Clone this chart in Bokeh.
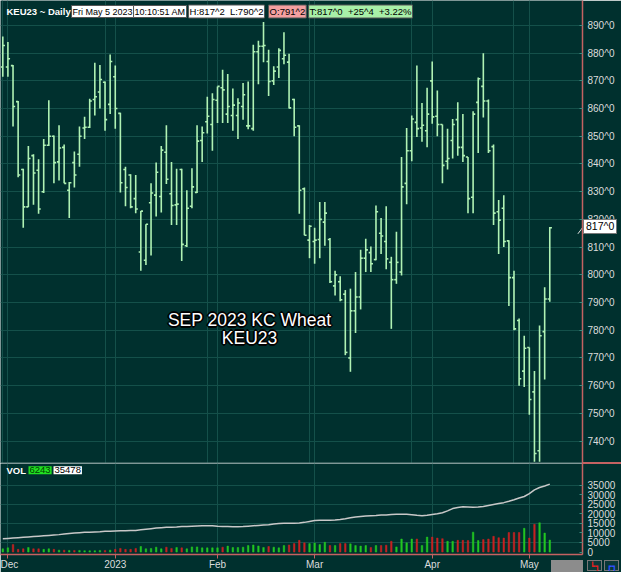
import numpy as np
from bokeh.plotting import figure
from bokeh.models import (ColumnDataSource, Range1d, FixedTicker, Label, Span, Grid,
                          PrintfTickFormatter, Div)
from bokeh.layouts import column
from bokeh.embed import file_html
from bokeh.resources import INLINE

# ---------------- data ----------------
opens = [875, 875, 875.5, 862.5, 838, 824.5, 843, 837.75, 830, 846.75,
         850, 840.75, 846, 830.5, 840.5, 843.5, 853, 853.25, 863.25, 866,
         869.5, 861.5, 871.5, 858.25, 838, 836, 827.5, 808.25, 805.25, 826,
         828.75, 828.25, 844.25, 829.25, 825.25, 838, 810.5, 824.75, 829.75, 848.5,
         855.25, 854.25, 863, 867.5, 858, 857.5, 857.5, 860.75, 853.75, 852.75,
         880.5, 882.5, 877, 870, 875, 878, 876.75, 863.25, 853.75, 831,
         812.5, 812, 812.75, 819, 812.75, 796, 797.5, 793, 770, 787,
         792, 806, 808, 805.5, 815, 812, 804.5, 798.25, 801, 833,
         844.75, 855, 853, 852, 870, 857.25, 854.25, 841, 848.5, 856,
         846, 842.5, 828, 862.25, 868, 862.75, 846.25, 822.75, 824, 812.25,
         799, 783.5, 765.25, 773.75, 757.75, 736.5, 779.5, 791.25]
highs = [886, 884, 875.75, 862.75, 838.25, 846.5, 843.5, 841.75, 849, 863,
         850.25, 854, 847, 833.5, 844.5, 853.5, 857, 863.5, 876.5, 875.75,
         869.75, 879.5, 875.5, 858.5, 839, 836.25, 836, 823, 818.25, 833,
         840.5, 846.5, 854, 840.75, 838.25, 838.25, 830.5, 838.5, 854, 853.5,
         864.25, 865.5, 868, 874, 872.5, 867.25, 863.75, 869.25, 869.75, 883,
         884.5, 891.25, 881.25, 875.25, 881.75, 887.5, 879.75, 863.5, 854, 831.5,
         818, 817, 826.25, 826.25, 813.25, 801.5, 799.5, 794.5, 795, 801,
         809, 813, 810.25, 825, 820.5, 824.75, 806.5, 815.5, 842.5, 853,
         857.5, 875.5, 862, 867.5, 877, 866.5, 854.25, 852.75, 856.25, 862.25,
         858, 842.5, 859, 871.25, 880, 863.25, 847, 827, 828.75, 812.5,
         801.5, 784.25, 778, 773.75, 765.25, 781.75, 795.5, 817.25]
lows = [871.5, 871.5, 853.5, 835.25, 817, 824.5, 825.25, 822, 829.5, 846.5,
        833, 834, 833, 820.5, 831.5, 839, 849, 853, 857.5, 860,
        852, 858, 852.75, 829.75, 824.75, 824, 822.25, 801.5, 803.5, 807,
        821, 822.5, 832.75, 818, 818, 805, 810, 824, 829.5, 840.75,
        851, 844.75, 854.75, 854.75, 854.75, 852, 849, 856, 852.5, 852,
        868.75, 876.75, 864.5, 868.5, 871, 876, 860, 850, 822, 814.25,
        806, 804, 806, 810.5, 797, 792.5, 790.5, 771, 765, 779,
        787.5, 801, 801, 805.25, 807.5, 802, 780.5, 796.75, 799.75, 825.5,
        841, 849.75, 848, 846, 854.5, 850, 833, 838, 842, 843,
        840.75, 822.25, 822.25, 844, 856.75, 844, 818, 807.5, 810, 788.75,
        780, 760, 759.5, 749.5, 732.5, 732.5, 762.25, 790.25]
closes = [882.75, 878, 860.75, 836, 824.5, 842, 836.75, 823.75, 846.75, 850,
          840.5, 845.75, 833, 833.25, 836, 850, 853.25, 862.75, 864.25, 870.5,
          856, 877, 860, 833.25, 831.5, 824.5, 823.75, 823, 818.25, 829.5,
          837, 845, 834.5, 825, 825.5, 811, 824, 831.75, 848.25, 851.25,
          857.25, 863.25, 868, 866.75, 860.75, 861.25, 862, 865, 853.75, 880.5,
          882.5, 882.75, 869.75, 873.5, 881, 879.25, 860.25, 853.25, 830.5, 814.25,
          817.5, 812.5, 820, 822.25, 797.5, 800, 791, 772, 787, 792,
          806, 809, 804, 822.75, 814, 805.75, 798.25, 804.5, 831.75, 844.75,
          856.25, 852.75, 854, 858, 857, 854.25, 839.5, 842, 854.25, 846,
          843, 827.5, 858, 870.75, 862.75, 844.75, 822.25, 819.75, 812, 799,
          780.5, 762.5, 773.5, 755, 735.5, 778, 791.25, 817]
volume = [1700, 2200, 3900, 1400, 1700, 2400, 1700, 1700, 1400, 1700,
          1400, 1000, 1000, 850, 850, 850, 700, 700, 700, 850,
          850, 1000, 1400, 1900, 1400, 1400, 1900, 2900, 1700, 1900,
          2550, 1700, 2550, 1900, 2400, 2200, 1700, 2700, 2700, 2200,
          2200, 2200, 2200, 2550, 3100, 2400, 2400, 2550, 3400, 3700,
          3200, 2400, 2900, 2550, 2200, 3400, 3700, 4400, 6100, 4800,
          4400, 4700, 3900, 5100, 3400, 3400, 4400, 4400, 4300, 3400,
          3100, 3400, 2400, 3400, 3400, 3600, 5600, 2700, 6800, 4800,
          6800, 6800, 3400, 7800, 7800, 7300, 7000, 5600, 5600, 6100,
          6100, 6000, 10400, 6000, 6500, 6800, 8200, 7500, 7300, 10200,
          10200, 10200, 12400, 7300, 14500, 15300, 9900, 6243]
open_interest = [6900, 7100, 7300, 7500, 7700, 7900, 8100, 8300, 8500, 8700,
                 8900, 9100, 9400, 9700, 9900, 10100, 10300, 10400, 10500, 10600,
                 10800, 10900, 11000, 11100, 11100, 11200, 11300, 11600, 11900, 12200,
                 12500, 12700, 12900, 13000, 13100, 13300, 13400, 13500, 13600, 13700,
                 13700, 13700, 13500, 13400, 13300, 13200, 13200, 13300, 13500, 13700,
                 13900, 14100, 14300, 14600, 14900, 15100, 15100, 15100, 15200, 15500,
                 16000, 16500, 16600, 16600, 16600, 16700, 17000, 17400, 17900, 18300,
                 18600, 18800, 19000, 19100, 19300, 19400, 19600, 19700, 19700, 19700,
                 19500, 19200, 19000, 19200, 19600, 20000, 20500, 21500, 22700, 23300,
                 23600, 23500, 23400, 23500, 23800, 24300, 24800, 25300, 25800, 26500,
                 27300, 28200, 29000, 30500, 32500, 33700, 34500, 35478]
month_labels = ["Dec", "2023", "Feb", "Mar", "Apr", "May"]
month_bar_index = [1, 22, 42, 61, 84, 103]
price_ticks = list(range(740, 900, 10))
vol_ticks = list(range(0, 40000, 5000))
vol_grid_ticks = [5000, 15000, 25000, 35000]

header_symbol = "KEU23 ~ Daily"
header_boxes = ["Fri May 5 2023", "10:10:51 AM", "H:817^2\u00a0\u00a0L:790^2", "O:791^2",
                "T:817^0\u00a0\u00a0+25^4\u00a0\u00a0+3.22%"]
title_lines = ["SEP 2023 KC Wheat", "KEU23"]
vol_last, oi_last = "6243", "35478"
last_price_label = "817^0"

# ---------------- styling ----------------
BG = "#00302e"
GRID = "#14504a"
AXRED = "#c46262"
BARC = "#b0f2b4"
TXT = "#dcdcdc"
UP = "#22c822"
DN = "#c82222"
FONT = "Liberation Sans"

n = len(opens)
idx = np.arange(n)
x_range = Range1d(-0.45, 113.4)

# reference-pixel -> data helpers (annotation placement only)
def ax(px):
    return px / 5.11 - 0.45

def ay(py):
    return 899.0 - py / 2.77

def vy(py):
    return (553.5 - py) * 511.0

def style_right_axis(a, ticks):
    a.ticker = FixedTicker(ticks=ticks)
    a.axis_line_color = AXRED
    a.axis_line_width = 1.5
    a.major_tick_in = 3
    a.major_tick_out = 0
    a.major_tick_line_color = "#3a8a80"
    a.minor_tick_line_color = None
    a.major_label_text_color = TXT
    a.major_label_text_font = FONT
    a.major_label_text_font_size = "10px"
    a.major_label_standoff = 5

# ---------------- price panel ----------------
p = figure(width=621, height=463, x_range=x_range, y_range=Range1d(731.9, 899.0),
           x_axis_location=None, y_axis_location="right", tools="",
           output_backend="svg", toolbar_location=None,
           min_border_left=0, min_border_right=39, min_border_top=0, min_border_bottom=0,
           background_fill_color=BG, border_fill_color=BG, outline_line_color=None)
ya = p.yaxis[0]
style_right_axis(ya, price_ticks)
ya.formatter = PrintfTickFormatter(format="%d^0")
p.add_layout(Grid(dimension=0, ticker=FixedTicker(ticks=month_bar_index)))
for g in p.select(type=Grid):
    g.grid_line_color = GRID
    g.grid_line_width = 1

src = ColumnDataSource(dict(x=idx, xl=idx - 0.42, xr=idx + 0.42,
                            o=opens, h=highs, l=lows, c=closes))
p.segment(x0="x", y0="l", x1="x", y1="h", source=src, line_color=BARC, line_width=1.6)
p.segment(x0="xl", y0="o", x1="x", y1="o", source=src, line_color=BARC, line_width=1.6)
p.segment(x0="x", y0="c", x1="xr", y1="c", source=src, line_color=BARC, line_width=1.6)

p.add_layout(Span(location=731.9, dimension="width", line_color="#6f8c8a", line_width=2))

# last price connector
p.segment(x0=[idx[-1] + 5.5], y0=[closes[-1] - 2.2], x1=[113.4], y1=[closes[-1]],
          line_color="#e0e0e0", line_width=1)

# header
p.add_layout(Label(x=ax(6), y=ay(11), text=header_symbol, text_color="white",
                   text_font=FONT, text_font_size="9.5px", text_font_style="bold",
                   text_baseline="middle"))
box_x = [71, 133, 188, 268, 308]
box_fs = ["9px", "9px", "9.5px", "9.5px", "9.5px"]
box_bg = ["white", "white", "white", "#f4a0a0", "#a8f0a8"]
for t, bx, fs, bg in zip(header_boxes, box_x, box_fs, box_bg):
    p.add_layout(Label(x=ax(bx), y=ay(11), text=t, text_color="black",
                       text_font=FONT, text_font_size=fs, text_baseline="middle",
                       background_fill_color=bg, border_line_color="#555555",
                       padding=1))

# central title with dark halo
offs = [(-1, -1), (1, 1), (-1, 1), (1, -1), (0, 2), (0, -2), (2, 0), (-2, 0)]
for line, yy in zip(title_lines, [319.5, 337]):
    for dx, dy in offs:
        p.add_layout(Label(x=ax(249), y=ay(yy), text=line, text_color="black",
                           text_alpha=0.85, x_offset=dx, y_offset=dy,
                           text_font=FONT, text_font_size="17.5px",
                           text_align="center", text_baseline="middle"))
    p.add_layout(Label(x=ax(249), y=ay(yy), text=line, text_color="white",
                       text_font=FONT, text_font_size="17.5px",
                       text_align="center", text_baseline="middle"))

# ---------------- volume panel ----------------
p2 = figure(width=621, height=109, x_range=x_range, y_range=Range1d(-1280, 46245),
            x_axis_location="below", y_axis_location="right", tools="",
            output_backend="svg", toolbar_location=None,
            min_border_left=0, min_border_right=39, min_border_top=0, min_border_bottom=0,
            background_fill_color=BG, border_fill_color=BG, outline_line_color=None)
va = p2.yaxis[0]
style_right_axis(va, vol_ticks)
xa = p2.xaxis[0]
xa.ticker = FixedTicker(ticks=month_bar_index)
xa.major_label_overrides = {i: s for i, s in zip(month_bar_index, month_labels)}
xa.axis_line_color = AXRED
xa.axis_line_width = 1.5
xa.major_tick_line_color = AXRED
xa.major_tick_in = 0
xa.major_tick_out = 4
xa.minor_tick_line_color = None
xa.major_label_text_color = TXT
xa.major_label_text_font = FONT
xa.major_label_text_font_size = "10px"
xa.major_label_text_align = "left"
xa.major_label_standoff = 0
p2.ygrid.ticker = FixedTicker(ticks=vol_grid_ticks)
for g in p2.select(type=Grid):
    g.grid_line_color = GRID

vcol = [UP if c >= o else DN for o, c in zip(opens, closes)]
vsrc = ColumnDataSource(dict(x=idx, v=volume, col=vcol))
p2.vbar(x="x", top="v", bottom=0, width=0.3, source=vsrc, fill_color="col", line_color="col",
        line_width=0.5)
p2.line(idx, open_interest, line_color="#c8c8c8", line_width=1.5)

p2.add_layout(Label(x=ax(6), y=vy(470), text="VOL", text_color="white",
                    text_font=FONT, text_font_size="9.5px", text_font_style="bold",
                    text_baseline="middle"))
p2.add_layout(Label(x=ax(28), y=vy(470), text=vol_last, text_color="#004000",
                    text_font=FONT, text_font_size="9.5px", text_baseline="middle",
                    background_fill_color="#22e022", padding=1))
p2.add_layout(Label(x=ax(53), y=vy(470), text=oi_last, text_color="black",
                    text_font=FONT, text_font_size="9.5px", text_baseline="middle",
                    background_fill_color="white", padding=1))

# ---------------- one overlay for items outside the plot frames ----------------
overlay_html = (
    '<div style="position:relative;width:621px;height:572px;pointer-events:none;">'
    '<div style="position:absolute;left:583px;top:219px;background:#ffffff;color:#000;'
    'font-family:\'Liberation Sans\';font-size:10.5px;line-height:13px;padding:0 2px;'
    'border:1px solid #777;white-space:nowrap;">' + last_price_label + '</div>'
    '<div style="position:absolute;left:582px;top:462px;width:39px;height:2px;'
    'background:' + AXRED + ';"></div>'
    '<div style="position:absolute;left:551px;top:560px;width:32px;height:12px;'
    'background:#8c8c8c;"></div>'
    '<div style="position:absolute;left:587px;top:560px;width:15px;height:11px;'
    'background:#0a3838;border:1px solid #777;color:#e02020;font-size:8px;'
    'line-height:11px;text-align:center;">\u2517\u2513</div>'
    '<div style="position:absolute;left:604px;top:560px;width:15px;height:11px;'
    'background:#0a3838;border:1px solid #777;color:#3050ff;font-size:8px;'
    'line-height:11px;text-align:center;">\u250f\u2513</div>'
    '</div>')
overlay = Div(text=overlay_html, width=621, height=572, margin=0,
              styles={"position": "absolute", "left": "0px", "top": "0px",
                      "z-index": "10", "pointer-events": "none"})

layout = column(p, p2, overlay, spacing=0)
open("out.html", "w").write(file_html(layout, INLINE))
